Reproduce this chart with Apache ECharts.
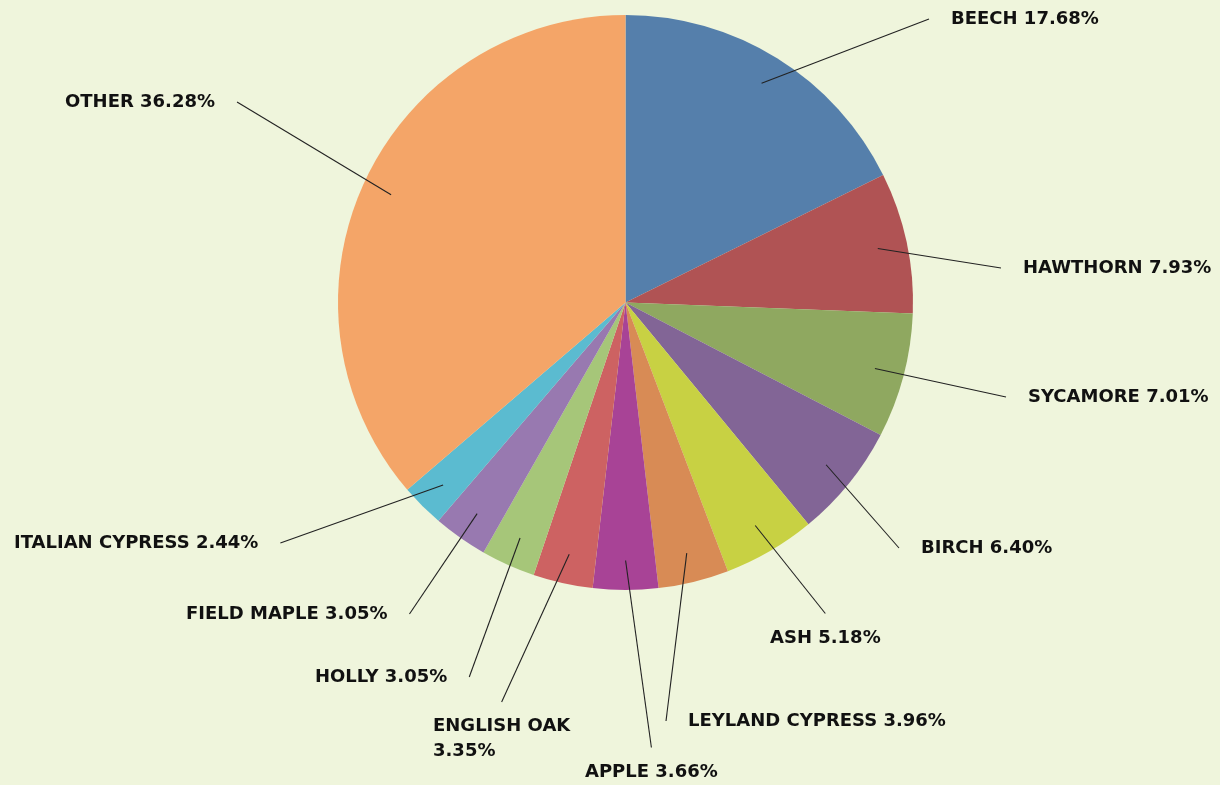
<!DOCTYPE html>
<html><head><meta charset="utf-8">
<script src="https://cdn.jsdelivr.net/npm/echarts@6/dist/echarts.min.js"></script>
<style>html,body{margin:0;padding:0;background:#EFF5DC}#c{width:1220px;height:785px}</style>
</head><body><div id="c"></div>
<script>
const categories = ['BEECH','HAWTHORN','SYCAMORE','BIRCH','ASH','LEYLAND CYPRESS','APPLE','ENGLISH OAK','HOLLY','FIELD MAPLE','ITALIAN CYPRESS','OTHER'];
const shares = [17.68, 7.93, 7.01, 6.40, 5.18, 3.96, 3.66, 3.35, 3.05, 3.05, 2.44, 36.28];
const labelSeparators = [' ',' ',' ',' ',' ',' ',' ','\n',' ',' ',' ',' '];

// styles / layout (kept apart from data)
const sliceColors = ['#557FAB','#B05354','#8FA860','#826596','#C8D143','#D88B55','#A84396','#CD6262','#A6C679','#9879B0','#5BBBD0','#F4A568'];
const labelLeft = [951,1023,1028,921,770,688,585,433,315,186,14,65];
const labelMid  = [19,268,397,548,638,721,772,739,677,614,543,102];
const PAD_H = 22, PAD_V = 12;

const chart = echarts.init(document.getElementById('c'), null, {renderer:'canvas'});
const pieData = categories.map((n, i) => ({name: n, value: shares[i], itemStyle: {color: sliceColors[i]}}));
const labelData = categories.map((n, i) => ({name: n, value: shares[i]}));

chart.setOption({
  backgroundColor: '#EFF5DC',
  animation: false,
  series: [
    {
      type: 'pie', silent: true, z: 2,
      center: [625.5, 302.5], radius: 287.5,
      startAngle: 90, clockwise: true,
      label: {show: false}, labelLine: {show: false},
      itemStyle: {borderWidth: 0},
      data: pieData
    },
    {
      type: 'pie', silent: true, z: 5,
      center: [625.5, 302.5], radius: [0, 258],
      startAngle: 90, clockwise: true,
      itemStyle: {color: 'rgba(0,0,0,0)', borderWidth: 0},
      label: {
        show: true,
        color: '#111',
        fontFamily: 'DejaVu Sans',
        fontWeight: 'bold',
        fontSize: 18,
        lineHeight: 25,
        padding: [PAD_V, PAD_H, PAD_V, PAD_H],
        backgroundColor: 'rgba(0,0,0,0)',
        formatter: p => p.name + labelSeparators[p.dataIndex] + p.value.toFixed(2) + '%'
      },
      labelLine: {show: true, length: 10, length2: 0, smooth: false, lineStyle: {color: '#222', width: 1.1}},
      labelLayout: p => ({
        x: labelLeft[p.dataIndex] - PAD_H,
        y: labelMid[p.dataIndex],
        align: 'left',
        verticalAlign: 'middle'
      }),
      data: labelData
    }
  ]
});
</script></body></html>
